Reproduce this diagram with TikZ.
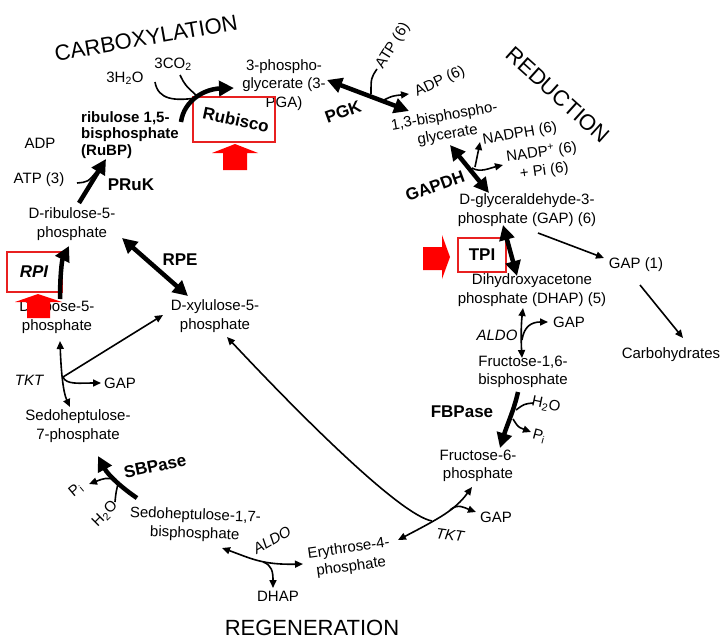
\documentclass[tikz,border=0pt]{standalone}
\usepackage{fontspec}
\setmainfont{Liberation Sans}
\usetikzlibrary{
    arrows.meta,
    calc
}
\definecolor{ink}{RGB}{0,0,0}
\definecolor{alert}{RGB}{255,0,0}
\definecolor{boxred}{RGB}{232,32,32}
\tikzset{
    line join=round,
    metab/.style={
        font=\fontsize{15}{18.5}\selectfont,
        align=center,
        inner sep=1pt,
        text=ink
    },
    cofac/.style={metab},
    enzyme/.style={
        font=\bfseries\fontsize{17}{20}\selectfont,
        inner sep=1pt,
        text=ink
    },
    enzymebi/.style={
        enzyme,
        font=\bfseries\itshape\fontsize{17}{20}\selectfont
    },
    enzymeit/.style={
        font=\itshape\fontsize{15}{18}\selectfont,
        inner sep=1pt,
        text=ink
    },
    phasetitle/.style={
        font=\fontsize{22}{24}\selectfont,
        inner sep=0pt,
        text=ink
    },
    enzbox/.style={
        draw=boxred,
        line width=2.5pt,
        inner sep=0pt
    },
    upreg/.style={
        fill=alert,
        draw=none
    },
    mainstep/.style={
        draw=ink,
        line width=4.5pt,
        -{Triangle[length=15pt,width=15pt]}
    },
    mainboth/.style={
        draw=ink,
        line width=4.5pt,
        {Triangle[length=15pt,width=15pt]}-{Triangle[length=15pt,width=15pt]}
    },
    sidestep/.style={
        draw=ink,
        line width=1.6pt,
        -{Triangle[length=8pt,width=7pt]}
    },
    sideboth/.style={
        draw=ink,
        line width=1.6pt,
        {Triangle[length=8pt,width=7pt]}-{Triangle[length=8pt,width=7pt]}
    },
    sideline/.style={
        draw=ink,
        line width=1.6pt
    }
}

\begin{document}
\begin{tikzpicture}[x=1pt, y=-1pt]
\useasboundingbox (0,0) rectangle (721,642);

% Phase titles
\node[phasetitle, rotate=10] (carbox) at (146,38) {CARBOXYLATION};
\node[phasetitle, rotate=-42] (reduct) at (558,95) {REDUCTION};
\node[phasetitle] (regen) at (312,628) {REGENERATION};

% Carboxylation
\node[cofac] (water) at (125,78) {3H\textsubscript{2}O};
\node[cofac] (co2) at (173,64) {3CO\textsubscript{2}};
\node[metab] (pga) at (284,85) {3-phospho-\\glycerate (3-\\PGA)};
\node[metab, font=\bfseries\fontsize{15}{16.5}\selectfont, align=left, anchor=west] (rubp) at (80,135) {ribulose 1,5-\\bisphosphate\\(RuBP)};
\node[enzyme, rotate=-12] (rubisco) at (236,120) {Rubisco};
\node[enzbox, minimum width=82pt, minimum height=45pt] (rubiscobox) at (234,119.5) {};

\coordinate (rubp-out) at (181,122);
\coordinate (pga-in) at (234,88);
\coordinate (water-out) at (155,82);
\coordinate (co2-out) at (180,75);
\draw[sideline] (water-out) .. controls (158,100) and (175,101) .. (196,98);
\draw[sideline] (co2-out) .. controls (185,85) .. (197,96);
\draw[mainstep] (rubp-out) .. controls (184,100) and (205,89) .. (pga-in);

% Reduction
\node[enzyme, rotate=20] (pgk) at (343,112) {PGK};
\node[cofac, rotate=58] (atp6) at (393,46) {ATP (6)};
\node[cofac, rotate=25] (adp6) at (440,82) {ADP (6)};
\node[metab, rotate=10] (bpg) at (446,126) {1,3-bisphospho-\\glycerate};
\node[cofac, rotate=10] (nadph) at (520,134) {NADPH (6)};
\node[metab, rotate=8] (nadp) at (543,162) {NADP\textsuperscript{+} (6)\\+ Pi (6)};
\node[enzyme, rotate=20] (gapdh) at (435,186) {GAPDH};
\node[metab] (gap6) at (527,210) {D-glyceraldehyde-3-\\phosphate (GAP) (6)};
\node[enzyme] (tpi) at (482,255) {TPI};
\node[enzbox, minimum width=48pt, minimum height=34pt] (tpibox) at (482,255) {};
\node[metab] (dhap) at (532,290) {Dihydroxyacetone\\phosphate (DHAP) (5)};
\node[cofac] (gap1) at (636,265) {GAP (1)};
\node[cofac] (carbs) at (671,355) {Carbohydrates};

\coordinate (pgk-a) at (327,80);
\coordinate (pgk-b) at (409,111);
\draw[mainboth] (pgk-a) -- (pgk-b);
\draw[sideline] (377,69) .. controls (371,78) .. (371,94);
\draw[sidestep] (384,100) .. controls (392,96) .. (409,94);

\coordinate (gapdh-a) at (450,145);
\coordinate (gapdh-b) at (489,193);
\draw[mainboth] (gapdh-a) -- (gapdh-b);
\draw[sidestep] (475,167) .. controls (477,158) .. (480,142);
\draw[sidestep] (472,168) .. controls (480,173) and (490,168) .. (503,165);

\coordinate (tpi-a) at (503,225);
\coordinate (tpi-b) at (517,276);
\draw[mainboth] (tpi-a) -- (tpi-b);

\coordinate (gap6-out) at (538,233);
\coordinate (gap1-in) at (604,258);
\coordinate (gap1-out) at (640,285);
\coordinate (carbs-in) at (683,338);
\draw[sidestep] (gap6-out) -- (gap1-in);
\draw[sidestep] (gap1-out) -- (carbs-in);

% Regeneration, right side
\node[enzymeit] (aldor) at (497,335) {ALDO};
\node[cofac] (gapr) at (569,322) {GAP};
\node[metab] (fbp) at (523,372) {Fructose-1,6-\\bisphosphate};
\node[enzyme] (fbpase) at (462,412) {FBPase};
\node[cofac, rotate=-12] (h2or) at (546,405) {H\textsubscript{2}O};
\node[cofac, rotate=-15] (pir) at (539,436) {P\textsubscript{i}};
\node[metab] (f6p) at (478,466) {Fructose-6-\\phosphate};
\node[cofac] (gapb) at (496,517) {GAP};
\node[enzymeit, rotate=-8] (tktb) at (450,535) {TKT};

\draw[sideboth] (523,308) .. controls (521,325) and (521,340) .. (522,358);
\draw[sidestep] (522,340) .. controls (524,326) and (532,322) .. (548,322);

\draw[mainstep] (518,392) .. controls (514,410) and (507,425) .. (500,448);
\draw[sideline] (533,403) .. controls (524,404) .. (516,410);
\draw[sidestep] (513,419) .. controls (518,427) .. (531,432);

% Regeneration, bottom
\node[metab, rotate=8] (e4p) at (350,558) {Erythrose-4-\\phosphate};
\node[enzymeit, rotate=30] (aldob) at (272,540) {ALDO};
\node[cofac] (dhapb) at (278,596) {DHAP};
\node[metab, rotate=-2] (sbp) at (195,525) {Sedoheptulose-1,7-\\bisphosphate};
\node[enzyme, rotate=12] (sbpase) at (155,466) {SBPase};
\node[cofac, rotate=40] (pil) at (76,490) {P\textsubscript{i}};
\node[cofac, rotate=45] (h2ol) at (105,514) {H\textsubscript{2}O};

\coordinate (tkt-j) at (432,521);
\coordinate (xu5p-in) at (227,337);
\draw[sideboth] (398,540) .. controls (440,518) and (455,510) .. (472,487);
\draw[sidestep] (450,510) .. controls (458,503) and (465,508) .. (476,512);
\draw[sidestep] (tkt-j) .. controls (400,515) and (300,415) .. (xu5p-in);

\coordinate (aldo-j) at (263,562);
\draw[sideboth] (222,548) .. controls (250,558) and (262,565) .. (303,564);
\draw[sidestep] (aldo-j) .. controls (272,565) and (273,572) .. (273,588);

\draw[mainstep] (137,498) .. controls (122,488) and (108,475) .. (98,456);
\draw[sideline] (115,502) .. controls (116,492) .. (118,484);
\draw[sidestep] (116,479) .. controls (105,478) .. (89,484);

% Regeneration, left side
\node[metab] (s7p) at (78,426) {Sedoheptulose-\\7-phosphate};
\node[enzymeit] (tktl) at (29,380) {TKT};
\node[cofac] (gapl) at (120,383) {GAP};
\node[metab] (xu5p) at (215,316) {D-xylulose-5-\\phosphate};
\node[metab] (r5p) at (57,317) {D-ribose-5-\\phosphate};
\node[enzyme] (rpe) at (180,260) {RPE};
\node[enzymebi] (rpi) at (34,272) {RPI};
\node[enzbox, minimum width=55pt, minimum height=40pt] (rpibox) at (34.5,272) {};
\node[metab] (ru5p) at (72,224) {D-ribulose-5-\\phosphate};
\node[enzyme] (pruk) at (131,185) {PRuK};
\node[cofac] (atp3) at (39,180) {ATP (3)};
\node[cofac] (adp3) at (40,143) {ADP};

\coordinate (tktl-j) at (63,377);
\draw[sideboth] (60,341) .. controls (61,370) and (63,392) .. (70,407);
\draw[sidestep] (tktl-j) -- (163,315);
\draw[sidestep] (tktl-j) .. controls (66,385) and (80,383) .. (101,383);

\draw[mainboth] (122,238) -- (188,296);
\draw[mainstep] (60,299) .. controls (60,275) and (62,260) .. (69,246);

\draw[mainstep] (79,203) -- (106,159);
\draw[sideline] (77,183) .. controls (88,182) .. (97,171);

% Up-regulated enzymes
\fill[upreg] (223,170) -- (223,153) -- (212,153) -- (235,144) -- (258,153) -- (247,153) -- (247,170) -- cycle;
\fill[upreg] (27,318) -- (27,302) -- (15,302) -- (38,294) -- (62,302) -- (50,302) -- (50,318) -- cycle;
\fill[upreg] (423,247) -- (442,247) -- (442,235) -- (450,257) -- (442,279) -- (442,270) -- (423,270) -- cycle;

\end{tikzpicture}
\end{document}
